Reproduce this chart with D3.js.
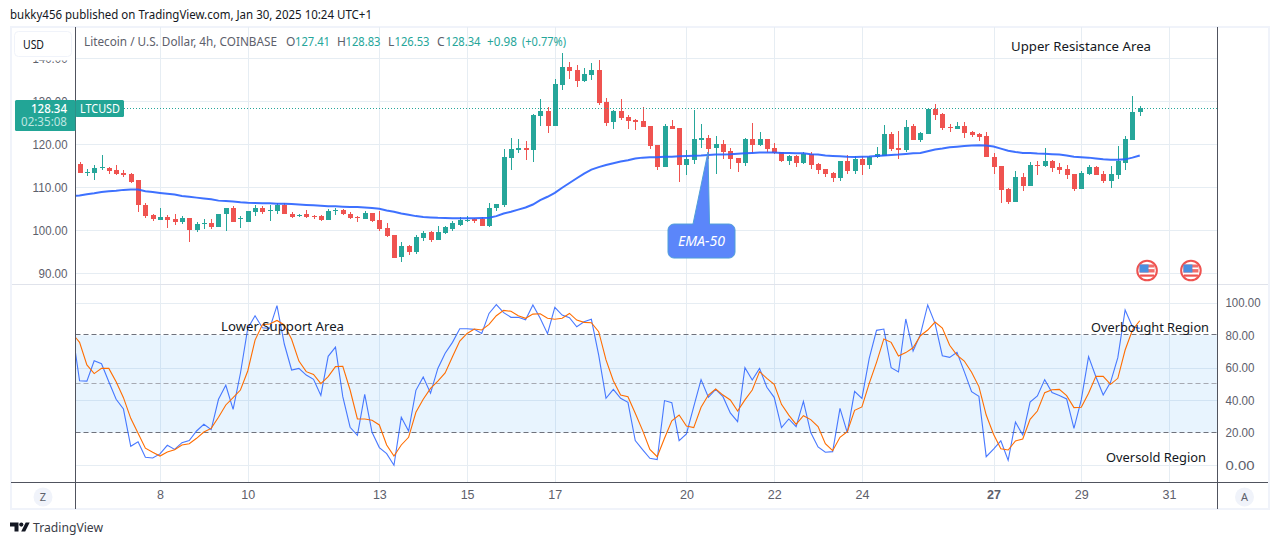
<!DOCTYPE html>
<html>
<head>
<meta charset="utf-8">
<script src="https://cdn.jsdelivr.net/npm/d3@7"></script>
<style>
  html, body { margin: 0; padding: 0; background: #fff; overflow: hidden; }
  svg { display: block; font-family: "Noto Sans", "DejaVu Sans", sans-serif; }
</style>
</head>
<body>
<svg id="chart"></svg>
<script>
const width = 1281;
const height = 545;

// ----- DATA -----
const opens = [
  115.5,113.3,113.3,114.5,114.6,114.0,113.3,113.0,111.6,106.0,
  103.5,102.4,103.0,102.6,101.9,102.8,100.0,101.4,101.6,100.7,
  103.8,105.1,102.8,101.9,104.2,105.1,104.6,104.4,106.0,103.9,
  103.5,103.7,103.3,103.3,102.3,104.6,104.7,103.9,103.0,102.6,
  104.0,102.3,100.5,98.8,93.7,96.3,94.9,98.1,99.5,97.8,
  99.4,100.3,101.2,102.2,102.6,102.6,101.0,105.2,105.9,116.8,
  118.7,119.1,118.7,126.6,127.8,124.3,133.8,138.0,137.3,134.7,
  136.1,137.3,129.8,125.2,127.8,126.4,125.7,125.4,124.3,119.8,
  114.7,124.3,123.8,115.2,116.4,121.0,121.5,119.1,120.1,118.4,
  116.8,115.7,121.2,119.8,121.2,119.1,118.2,116.1,117.3,115.7,
  117.8,115.4,114.3,113.3,112.2,116.1,113.8,116.6,115.2,117.1,
  117.3,122.4,119.1,118.7,124.3,121.0,122.4,128.2,127.1,124.0,
  123.6,124.3,122.9,122.4,121.9,117.1,115.0,109.6,106.6,112.4,
  110.3,115.2,115.0,116.1,114.7,114.3,113.1,109.6,113.1,114.7,
  113.1,111.5,112.9,115.7,121.0,127.41
];
const highs = [
  116.0,114.2,115.3,117.4,114.7,115.1,114.0,113.4,111.6,106.4,
  103.9,105.1,103.6,103.7,103.3,102.9,102.0,102.6,102.6,103.9,
  105.3,105.7,103.3,104.4,105.8,105.6,106.0,106.3,106.3,104.2,
  103.8,104.7,103.6,103.5,104.9,105.2,104.9,104.2,103.4,104.4,
  104.1,104.4,101.6,98.8,97.2,96.5,98.8,99.8,99.8,100.9,
  101.0,102.2,103.0,103.3,102.9,103.1,106.4,106.1,118.9,121.5,
  121.2,120.8,127.1,130.5,128.7,135.2,141.2,139.1,138.4,137.8,
  138.9,139.6,130.8,128.0,130.5,126.8,125.9,128.7,124.3,119.8,
  124.7,125.7,123.8,118.7,128.0,124.7,122.2,121.9,121.0,119.1,
  116.8,121.5,125.0,122.9,121.2,120.3,118.2,117.5,117.5,118.2,
  118.2,115.7,114.3,113.6,116.1,117.5,117.3,117.3,117.3,119.4,
  124.5,122.9,123.1,125.7,124.7,122.9,128.2,129.4,127.3,124.7,
  125.2,125.2,123.1,122.6,122.9,118.0,115.0,109.8,113.8,113.3,
  115.9,116.1,119.1,116.4,115.7,115.2,113.1,113.8,115.2,115.0,
  113.8,115.0,119.6,121.9,131.2,128.83
];
const lows = [
  113.3,112.6,111.6,114.0,113.0,112.8,112.4,110.9,104.2,102.8,
  102.1,102.3,100.5,101.3,101.5,97.2,99.5,100.2,100.3,100.7,
  99.8,101.9,100.5,101.9,103.3,103.8,102.1,103.7,103.7,102.8,
  103.0,102.9,102.6,102.1,102.3,103.5,103.5,102.6,102.0,102.6,
  102.0,99.8,98.4,93.5,92.6,94.2,94.4,97.4,97.3,97.8,
  99.1,99.8,100.9,101.9,101.7,100.9,100.8,104.5,105.4,114.0,
  118.0,116.4,115.9,124.3,122.6,124.3,132.6,135.2,133.3,134.5,
  135.0,129.1,124.3,123.6,125.7,123.6,123.3,124.0,118.9,114.0,
  114.7,123.6,111.2,112.9,115.4,119.1,116.6,113.1,116.6,114.3,
  113.6,115.0,118.0,119.6,118.2,117.8,115.9,115.2,114.7,115.4,
  114.3,113.1,112.4,111.2,111.5,113.1,113.1,112.9,114.3,116.8,
  117.3,118.4,116.6,118.2,121.0,120.5,122.4,125.7,123.3,122.9,
  123.6,121.5,121.7,120.8,117.1,113.1,106.4,106.1,106.6,109.1,
  110.3,112.9,114.7,113.6,113.1,111.9,109.1,109.6,112.9,112.9,
  111.0,109.8,111.9,114.0,121.0,126.53
];
const closes = [
  113.3,113.6,114.4,114.7,113.7,113.0,112.8,111.2,105.9,103.3,
  102.6,103.0,102.4,101.9,102.8,100.0,101.4,101.6,100.7,103.9,
  105.1,101.9,102.9,104.4,105.1,104.2,104.7,106.0,103.7,103.2,
  103.6,103.0,103.0,102.3,104.4,104.7,103.7,102.8,102.8,104.0,
  102.1,100.2,98.6,93.5,96.3,94.9,98.4,99.3,97.7,99.6,
  100.8,101.6,102.4,102.4,102.2,101.0,105.2,106.1,117.1,118.9,
  119.1,118.7,126.8,127.8,124.3,134.0,138.0,137.1,134.7,136.4,
  137.3,129.6,125.0,127.8,126.1,125.4,125.2,124.0,119.6,114.7,
  124.3,123.6,115.2,116.6,121.2,121.5,118.9,120.1,118.2,116.6,
  115.7,121.2,119.8,121.2,118.9,118.0,116.1,117.3,115.7,117.8,
  115.2,114.0,113.1,112.2,116.1,113.8,116.6,115.2,117.1,117.8,
  122.4,118.9,118.7,124.0,121.0,122.6,128.2,126.8,123.8,123.8,
  124.3,122.6,122.2,121.7,117.1,114.7,109.4,106.6,112.4,110.3,
  115.2,115.0,116.1,114.5,114.0,112.9,109.6,113.3,114.7,112.9,
  111.5,113.1,116.1,121.2,127.5,128.34
];
// these three start one bar earlier, the chart edge cuts that bar off
const ema50 = [
  108.0,
  108.1,108.4,108.6,108.9,109.1,109.2,109.4,109.5,109.5,109.1,
  108.9,108.7,108.5,108.3,108.0,107.8,107.6,107.4,107.2,106.9,
  106.8,106.7,106.5,106.4,106.35,106.3,106.3,106.2,106.2,106.1,
  106.0,105.9,105.8,105.7,105.6,105.6,105.5,105.4,105.4,105.3,
  105.2,105.0,104.6,104.3,103.9,103.6,103.3,103.1,103.0,102.9,
  102.85,102.8,102.8,102.8,102.8,102.85,102.9,103.3,103.9,104.3,
  104.8,105.3,106.0,107.0,107.8,108.7,109.9,111.0,112.1,113.2,
  114.1,114.7,115.2,115.6,116.0,116.3,116.7,116.9,117.0,117.0,
  117.1,117.1,117.2,117.3,117.35,117.4,117.5,117.6,117.65,117.7,
  117.8,117.9,118.0,118.1,118.1,118.1,118.0,118.0,117.9,117.9,
  117.7,117.6,117.4,117.3,117.2,117.1,117.05,117.1,117.15,117.3,
  117.4,117.5,117.6,117.75,117.9,118.0,118.4,118.8,119.0,119.3,
  119.45,119.6,119.7,119.8,119.7,119.5,119.0,118.5,118.2,118.0,
  117.95,117.85,117.8,117.7,117.6,117.4,117.1,117.0,116.9,116.7,
  116.5,116.4,116.4,116.5,116.9,117.4
];
const stochK = [
  82.8,
  52.0,51.8,64.3,62.5,51.4,40.6,34.6,11.7,14.5,4.9,
  4.5,7.0,12.3,9.8,13.9,15.2,21.1,25.2,21.9,40.6,
  49.2,34.4,56.6,84.2,92.0,84.6,84.2,98.2,74.6,58.6,
  59.6,55.5,52.9,43.0,67.0,72.7,42.2,23.4,18.4,43.6,
  20.3,10.9,7.2,0.0,29.5,21.1,46.1,54.3,44.3,59.6,
  68.9,75.6,84.0,84.0,83.6,81.1,93.4,98.8,93.9,91.0,
  91.0,89.5,98.6,90.4,80.9,97.1,92.4,90.8,85.2,88.3,
  89.8,67.8,41.2,46.7,41.2,38.7,15.2,9.6,4.3,3.5,
  39.8,38.5,15.2,19.3,36.1,52.7,41.8,46.7,42.2,32.2,
  26.8,60.0,52.5,59.6,48.0,41.8,23.2,28.5,23.8,39.3,
  20.1,11.3,8.0,8.4,35.0,20.1,45.5,41.2,65.8,83.0,
  83.8,60.0,57.4,90.0,70.3,80.5,98.6,87.3,67.4,66.4,
  69.5,57.6,45.3,42.4,5.3,10.0,15.0,3.1,26.6,18.6,
  38.9,42.6,52.7,44.7,43.0,40.8,22.7,40.2,66.8,54.5,
  43.2,51.0,66.2,95.5,85.2,84.2
];
const stochD = [
  81.1,
  75.6,61.7,56.4,59.6,59.6,51.4,41.6,28.9,19.7,10.5,
  8.0,5.7,8.2,9.6,12.5,13.3,16.6,20.5,22.7,29.5,
  37.1,41.6,46.3,58.0,77.0,86.5,86.9,89.1,86.3,77.5,
  64.1,57.6,55.9,50.2,54.5,60.7,60.9,46.3,28.5,28.5,
  27.7,24.8,12.5,5.7,12.5,17.2,32.6,40.6,47.3,51.8,
  56.8,66.8,76.4,81.1,83.8,83.2,86.7,92.0,95.3,94.7,
  92.0,90.4,93.0,93.2,90.4,89.8,90.4,93.4,89.3,87.9,
  87.7,82.2,64.8,52.0,43.2,42.2,32.0,21.5,9.8,5.3,
  16.6,27.3,30.9,24.2,23.2,35.7,43.2,46.9,43.2,40.2,
  33.4,40.2,46.3,57.6,53.5,49.8,37.5,30.9,25.2,30.5,
  28.1,23.8,13.3,9.0,17.2,20.7,33.8,35.9,50.4,63.3,
  77.7,75.6,67.2,69.3,72.3,79.7,83.2,88.1,84.4,73.8,
  67.8,64.1,57.2,48.4,30.9,19.1,10.2,9.4,15.0,16.2,
  28.3,33.4,44.7,46.5,46.7,42.8,35.5,35.7,44.3,54.7,
  54.7,49.8,53.5,70.9,83.2,88.9
];

const priceTicks = [90, 100, 110, 120, 130, 140];
const stochTicks = [0, 20, 40, 60, 80, 100];
const stochGrid = [0, 40, 60, 100];
const stochBands = [80, 50, 20];
const dayTicks = [8, 10, 13, 15, 17, 20, 22, 24, 27, 29, 31];
const eventDays = [30, 31];
const lastPrice = 128.34;

const firstBarTime = Date.UTC(2025, 0, 6, 4);
const FOUR_HOURS = 4 * 3600 * 1000;
const barTime = i => firstBarTime + i * FOUR_HOURS;

// ----- LAYOUT -----
const left = 75.5, right = 1217.5;
const priceTop = 27, priceBottom = 284;
const stochTop = 285, stochBottom = 482;

const x = d3.scaleUtc()
  .domain([Date.UTC(2025, 0, 8), Date.UTC(2025, 0, 31)])
  .range([160, 1169]);
const yPrice = d3.scaleLinear().domain([90, 140]).range([273.3, 58.3]);
const yStoch = d3.scaleLinear().domain([0, 100]).range([465.3, 302.7]);

const GREEN = "#26a69a", RED = "#ef5350", GRID = "#e6edf3", AXIS = "#50535e", MUTED = "#5d606b";

const svg = d3.select("#chart").attr("width", width).attr("height", height);
const defs = svg.append("defs");
defs.append("clipPath").attr("id", "plot-clip").append("rect")
  .attr("x", left + 0.5).attr("y", priceTop).attr("width", right - left - 1).attr("height", stochBottom - priceTop);
// the header strip hides all but the foot of the 140.00 label
defs.append("clipPath").attr("id", "price-label-clip").append("rect")
  .attr("x", 0).attr("y", 60.5).attr("width", left).attr("height", 225);

function label(parent, px, py, text, opts = {}) {
  const t = parent.append("text")
    .attr("x", px).attr("y", py)
    .attr("font-size", opts.size || 12)
    .attr("fill", opts.fill || "#131722")
    .attr("text-anchor", opts.anchor || "start")
    .attr("font-weight", opts.weight || null)
    .attr("font-style", opts.style || null)
    .text(text);
  if (opts.w) t.attr("textLength", opts.w).attr("lengthAdjust", "spacingAndGlyphs");
  return t;
}

// ----- FRAME -----
svg.append("rect").attr("x", 11).attr("y", 27).attr("width", 1258).attr("height", 482)
  .attr("fill", "#fff").attr("stroke", "#f0f3fa").attr("stroke-width", 2);

// ----- GRID -----
const grid = svg.append("g").attr("shape-rendering", "crispEdges");
grid.append("g")
  .attr("transform", `translate(0,${priceBottom})`)
  .call(d3.axisBottom(x).tickValues(dayTicks.map(d => Date.UTC(2025, 0, d))).tickSize(-(priceBottom - priceTop)).tickFormat(""))
  .call(g => g.select(".domain").remove())
  .call(g => g.selectAll("line").attr("stroke", GRID));
grid.append("g")
  .attr("transform", `translate(0,${stochBottom})`)
  .call(d3.axisBottom(x).tickValues(dayTicks.map(d => Date.UTC(2025, 0, d))).tickSize(-(stochBottom - stochTop)).tickFormat(""))
  .call(g => g.select(".domain").remove())
  .call(g => g.selectAll("line").attr("stroke", GRID));
grid.append("g")
  .attr("transform", `translate(${right},0)`)
  .call(d3.axisLeft(yPrice).tickValues(priceTicks).tickSize(right - left).tickFormat(""))
  .call(g => g.select(".domain").remove())
  .call(g => g.selectAll("line").attr("stroke", GRID));
grid.append("g")
  .attr("transform", `translate(${right},0)`)
  .call(d3.axisLeft(yStoch).tickValues(stochGrid).tickSize(right - left).tickFormat(""))
  .call(g => g.select(".domain").remove())
  .call(g => g.selectAll("line").attr("stroke", GRID));

// pane separator
grid.append("line").attr("x1", 12).attr("x2", 1268).attr("y1", priceBottom + 0.5).attr("y2", priceBottom + 0.5)
  .attr("stroke", "#e0e3eb");

// stochastic band
svg.append("rect")
  .attr("x", left).attr("width", right - left)
  .attr("y", yStoch(80)).attr("height", yStoch(20) - yStoch(80))
  .attr("fill", "#2196f3").attr("fill-opacity", 0.1);
svg.append("g").selectAll("line")
  .data(stochBands)
  .join("line")
  .attr("x1", left).attr("x2", right)
  .attr("y1", d => Math.round(yStoch(d)) - 0.5).attr("y2", d => Math.round(yStoch(d)) - 0.5)
  .attr("stroke", d => d === 50 ? "#a6a9b2" : "#6f727c")
  .attr("stroke-dasharray", "5 3");

// ----- CANDLES -----
const plot = svg.append("g").attr("clip-path", "url(#plot-clip)");
const bars = opens.map((o, i) => ({ t: barTime(i), o, h: highs[i], l: lows[i], c: closes[i] }));

const candles = plot.append("g").attr("shape-rendering", "crispEdges")
  .selectAll("g").data(bars).join("g")
  .attr("fill", d => d.c >= d.o ? GREEN : RED);
candles.append("rect")
  .attr("x", d => Math.round(x(d.t)))
  .attr("width", 1)
  .attr("y", d => yPrice(d.h))
  .attr("height", d => yPrice(d.l) - yPrice(d.h));
candles.append("rect")
  .attr("x", d => Math.round(x(d.t)) - 2)
  .attr("width", 5)
  .attr("y", d => yPrice(Math.max(d.o, d.c)))
  .attr("height", d => Math.max(1, Math.abs(yPrice(d.o) - yPrice(d.c))));

// ----- LINES -----
const lineOf = (yScale) => d3.line().x((d, i) => x(barTime(i - 1))).y(d => yScale(d));

plot.append("path").attr("d", lineOf(yPrice)(ema50))
  .attr("fill", "none").attr("stroke", "#2962ff").attr("stroke-width", 2).attr("stroke-opacity", 0.9);
plot.append("path").attr("d", lineOf(yStoch)(stochK))
  .attr("fill", "none").attr("stroke", "#2962ff").attr("stroke-width", 1.1).attr("stroke-opacity", 0.85);
plot.append("path").attr("d", lineOf(yStoch)(stochD))
  .attr("fill", "none").attr("stroke", "#ff6d00").attr("stroke-width", 1.1);

// last price line
svg.append("line")
  .attr("x1", 124).attr("x2", right)
  .attr("y1", Math.round(yPrice(lastPrice)) + 0.5).attr("y2", Math.round(yPrice(lastPrice)) + 0.5)
  .attr("stroke", GREEN).attr("stroke-dasharray", "1 2");

// ----- AXES -----
const priceAxis = svg.append("g").attr("clip-path", "url(#price-label-clip)").append("g")
  .attr("transform", `translate(${left},0)`)
  .call(d3.axisLeft(yPrice).tickValues(priceTicks).tickSize(0).tickPadding(8).tickFormat(d3.format(".2f")));
priceAxis.select(".domain").remove();
priceAxis.selectAll("text").attr("font-size", 12.5).attr("fill", MUTED).attr("font-family", null)
  .attr("textLength", d => d < 100 ? 29 : 35).attr("lengthAdjust", "spacingAndGlyphs");

const stochAxis = svg.append("g")
  .attr("transform", `translate(${right},0)`)
  .call(d3.axisRight(yStoch).tickValues(stochTicks).tickSize(0).tickPadding(8).tickFormat(d3.format(".2f")));
stochAxis.select(".domain").remove();
stochAxis.selectAll("text").attr("font-size", 12.5).attr("fill", MUTED).attr("font-family", null)
  .attr("textLength", d => d < 100 ? 29 : 35).attr("lengthAdjust", "spacingAndGlyphs");

const timeAxis = svg.append("g")
  .attr("transform", `translate(0,${stochBottom})`)
  .call(d3.axisBottom(x).tickValues(dayTicks.map(d => Date.UTC(2025, 0, d))).tickSize(0).tickPadding(8)
    .tickFormat(d3.utcFormat("%-d")));
timeAxis.select(".domain").remove();
timeAxis.selectAll("text").attr("font-size", 12.5).attr("fill", MUTED).attr("font-family", null)
  .attr("font-weight", d => new Date(d).getUTCDate() === 27 ? 600 : null);

const axisLines = svg.append("g").attr("stroke", AXIS).attr("shape-rendering", "crispEdges");
axisLines.append("line").attr("x1", left).attr("x2", left).attr("y1", priceTop).attr("y2", 509);
axisLines.append("line").attr("x1", right).attr("x2", right).attr("y1", priceTop).attr("y2", 509);
axisLines.append("line").attr("x1", 11).attr("x2", 1268).attr("y1", stochBottom + 0.5).attr("y2", stochBottom + 0.5);

// ----- PRICE TAG -----
const tagY = yPrice(lastPrice);
svg.append("rect").attr("x", 15).attr("y", tagY - 8.5).attr("width", 60.5).attr("height", 31).attr("rx", 1.5).attr("fill", "#22a596");
svg.append("rect").attr("x", 75.5).attr("y", tagY - 8.5).attr("width", 48.5).attr("height", 17).attr("rx", 1.5).attr("fill", "#22a596");
label(svg, 67, tagY + 4.5, "128.34", { size: 12.5, fill: "#fff", anchor: "end", weight: 500, w: 36 });
label(svg, 67, tagY + 18, "02:35:08", { size: 12.5, fill: "#bfe6e0", anchor: "end", w: 46 });
label(svg, 80, tagY + 4.5, "LTCUSD", { size: 12.5, fill: "#fff", w: 40 });

// ----- HEADER -----
label(svg, 10, 19, "bukky456 published on TradingView.com, Jan 30, 2025 10:24 UTC+1", { size: 12, fill: "#131722", w: 362 });

svg.append("rect").attr("x", 14.5).attr("y", 31.5).attr("width", 57).attr("height", 25).attr("rx", 4)
  .attr("fill", "#fff").attr("stroke", "#f0f3fa");
label(svg, 23, 49, "USD", { size: 12, w: 21 });

const legendY = 46;
label(svg, 84, legendY, "Litecoin / U.S. Dollar, 4h, COINBASE", { size: 12, fill: MUTED, w: 193 });
const legendItems = [
  { k: "O", kx: 286, v: "127.41", vx: 295 },
  { k: "H", kx: 337, v: "128.83", vx: 345.5 },
  { k: "L", kx: 388, v: "126.53", vx: 394.5 },
  { k: "C", kx: 437, v: "128.34", vx: 445.5 }
];
legendItems.forEach(d => {
  label(svg, d.kx, legendY, d.k, { size: 12, fill: MUTED });
  label(svg, d.vx, legendY, d.v, { size: 12, fill: GREEN, w: 35 });
});
label(svg, 487, legendY, "+0.98", { size: 12, fill: GREEN, w: 30 });
label(svg, 522, legendY, "(+0.77%)", { size: 12, fill: GREEN, w: 44 });

// ----- ANNOTATIONS -----
label(svg, 1011, 51, "Upper Resistance Area", { size: 13, fill: "#131722", w: 140 });
label(svg, 221, 331, "Lower Support Area", { size: 13, fill: "#131722", w: 123 });
label(svg, 1091, 332, "Overbought Region", { size: 13, fill: "#131722", w: 118 });
label(svg, 1106, 462, "Oversold Region", { size: 13, fill: "#131722", w: 100 });

// EMA-50 callout, anchored on the line
const tipX = x(barTime(85.95)), tipY = yPrice(118.2);
svg.append("path")
  .attr("d", `M${tipX - 34},${tipY + 72} H${tipX - 15} L${tipX},${tipY} L${tipX + 1.5},${tipY + 72} H${tipX + 21}
    a6,6 0 0 1 6,6 V${tipY + 100} a6,6 0 0 1 -6,6 H${tipX - 34} a6,6 0 0 1 -6,-6 V${tipY + 78} a6,6 0 0 1 6,-6 Z`)
  .attr("fill", "#5b86fa").attr("stroke", "#4f9fd8").attr("stroke-width", 1);
label(svg, tipX - 6.5, tipY + 94, "EMA-50", { size: 13.5, fill: "#fff", anchor: "middle", style: "italic", w: 47 });

// ----- EVENT FLAGS -----
const flags = svg.append("g").selectAll("g").data(eventDays).join("g")
  .attr("transform", d => `translate(${x(Date.UTC(2025, 0, d, 12))},${yPrice(90) - 2.8})`);
flags.append("circle").attr("r", 9.8).attr("fill", "#fff").attr("stroke", RED).attr("stroke-width", 2);
flags.append("rect").attr("x", -7.5).attr("y", -6).attr("width", 15).attr("height", 8).attr("fill", RED).attr("opacity", 0.85);
flags.append("rect").attr("x", -7.5).attr("y", -6).attr("width", 9).attr("height", 8).attr("fill", "#4a8fe0");
flags.append("rect").attr("x", 1.5).attr("y", -3).attr("width", 6).attr("height", 1.6).attr("fill", "#fff");
flags.append("rect").attr("x", -7).attr("y", 4).attr("width", 14).attr("height", 2.2).attr("fill", RED);

// ----- SCALE BUTTONS -----
[{ cx: 43, t: "Z" }, { cx: 1244.5, t: "A" }].forEach(d => {
  svg.append("circle").attr("cx", d.cx).attr("cy", 497).attr("r", 9.5).attr("fill", "#f0f3fa");
  label(svg, d.cx, 501, d.t, { size: 11, fill: MUTED, anchor: "middle" });
});

// ----- LOGO -----
const logo = svg.append("g").attr("fill", "#131722");
logo.append("path").attr("d", "M10 522.5H18.5V531.5H14.5V526.5H10Z");
logo.append("circle").attr("cx", 21.3).attr("cy", 524.6).attr("r", 2.1);
logo.append("path").attr("d", "M25.7 522.5H29.7L25.2 531.5H21.2Z");
label(svg, 33, 532, "TradingView", { size: 13, fill: "#3a3d47", w: 70 });
</script>
</body>
</html>
